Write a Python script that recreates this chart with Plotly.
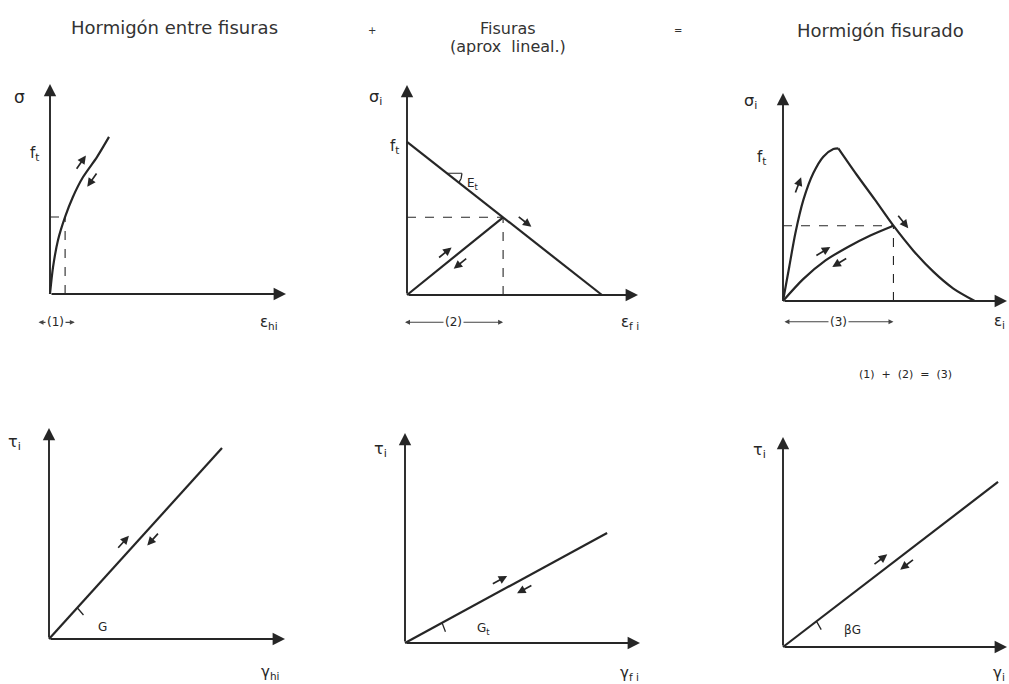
import math
import plotly.graph_objects as go

W, H = 1009, 684
INK = "#262626"
FONT = "DejaVu Sans"

# ---------------- data (each diagram uses normalised units, axes run 0..10) ----------------
# Hormigón entre fisuras: sigma - eps
a_eps = [0, 0.13, 0.34, 0.64, 0.97, 1.40, 1.99, 2.50]
a_sig = [0, 1.29, 2.57, 3.67, 4.62, 5.57, 6.52, 7.48]
a_ref = (0.64, 3.67)          # state marked by the dashed guides

# Fisuras: linear softening branch and secant unloading
b_soft_eps = [0, 8.44]
b_soft_sig = [7.29, 0]
b_unl_eps = [0, 4.16]
b_unl_sig = [0, 3.70]
b_ref = (4.16, 3.70)

# Hormigón fisurado: envelope (rising + softening) and unloading branch
c_up_eps = [0, 0.28, 0.55, 0.91, 1.35, 1.80, 2.25, 2.47]
c_up_sig = [0, 1.65, 3.25, 4.86, 6.14, 6.94, 7.31, 7.34]
c_down_eps = [2.47, 3.29, 4.11, 4.93, 5.82, 6.71, 7.59, 8.56]
c_down_sig = [7.34, 6.07, 4.86, 3.62, 2.42, 1.41, 0.61, 0]
c_unl_eps = [0, 0.9, 1.9, 2.9, 3.9, 4.93]
c_unl_sig = [0, 1.05, 1.95, 2.6, 3.15, 3.62]
c_ref = (4.93, 3.62)

# Shear: tau - gamma straight lines (G, G_t, beta*G)
d_gam, d_tau = [0, 7.33], [0, 9.05]
e_gam, e_tau = [0, 8.60], [0, 5.24]
f_gam, f_tau = [0, 9.60], [0, 7.86]

# ---------------- layout of the six diagrams ----------------
PANELS = {
    "A": dict(ox=50, oy=294, sx=23.6, sy=21.0),
    "B": dict(ox=407, oy=295, sx=23.1, sy=21.0),
    "C": dict(ox=783, oy=301, sx=22.4, sy=20.8),
    "D": dict(ox=49, oy=639, sx=23.6, sy=21.1),
    "E": dict(ox=405, oy=643, sx=23.5, sy=21.0),
    "F": dict(ox=783, oy=647, sx=22.4, sy=21.0),
}
X_LO, X_HI = -1.7, 10.0
Y_HI = 10.5

fig = go.Figure()
axes = {}
for i, k in enumerate(PANELS):
    g = PANELS[k]
    n = "" if i == 0 else str(i + 1)
    g["xref"], g["yref"] = "x" + n, "y" + n
    y_lo = -min(3.8, (H - g["oy"] - 1) / g["sy"])
    x0 = g["ox"] + X_LO * g["sx"]
    x1 = g["ox"] + X_HI * g["sx"]
    yb = g["oy"] - y_lo * g["sy"]
    yt = g["oy"] - Y_HI * g["sy"]
    axes["xaxis" + n] = dict(domain=[x0 / W, x1 / W], range=[X_LO, X_HI], visible=False,
                             anchor="y" + n, fixedrange=True)
    axes["yaxis" + n] = dict(domain=[1 - yb / H, 1 - yt / H], range=[y_lo, Y_HI], visible=False,
                             anchor="x" + n, fixedrange=True)


def curve(k, xs, ys, width=2.2, dash="solid", smooth=False):
    g = PANELS[k]
    line = dict(color=INK, width=width, dash=dash)
    if smooth:
        line.update(shape="spline", smoothing=0.8)
    fig.add_trace(go.Scatter(x=xs, y=ys, xaxis=g["xref"], yaxis=g["yref"], mode="lines",
                             line=line, hoverinfo="skip", showlegend=False))


def axis_arrows(k):
    g = PANELS[k]
    for hx, hy in [(X_HI, 0), (0, 10)]:
        fig.add_annotation(x=hx, y=hy, ax=0, ay=0, xref=g["xref"], yref=g["yref"],
                           axref=g["xref"], ayref=g["yref"], text="", showarrow=True,
                           arrowhead=2, arrowsize=1.3, arrowwidth=1.9, arrowcolor=INK)


def guides(k, ref):
    curve(k, [0, ref[0]], [ref[1], ref[1]], width=1.1, dash="dash")
    curve(k, [ref[0], ref[0]], [0, ref[1]], width=1.1, dash="dash")


def along_arrow(k, xs, ys, frac, side, forward, gap=9, length=18):
    """Small arrow drawn parallel to a curve, offset to one side of it."""
    g = PANELS[k]
    px = [x * g["sx"] for x in xs]
    py = [y * g["sy"] for y in ys]
    seg = [math.hypot(px[j + 1] - px[j], py[j + 1] - py[j]) for j in range(len(px) - 1)]
    target = frac * sum(seg)
    j, acc = 0, 0.0
    while j < len(seg) - 1 and acc + seg[j] < target:
        acc += seg[j]
        j += 1
    t = (target - acc) / seg[j]
    cx = px[j] + t * (px[j + 1] - px[j])
    cy = py[j] + t * (py[j + 1] - py[j])
    tx = (px[j + 1] - px[j]) / seg[j]
    ty = (py[j + 1] - py[j]) / seg[j]
    cx += side * gap * (-ty)
    cy += side * gap * tx
    hx, hy = cx + forward * tx * length / 2, cy + forward * ty * length / 2
    bx, by = cx - forward * tx * length / 2, cy - forward * ty * length / 2
    fig.add_annotation(x=hx / g["sx"], y=hy / g["sy"], ax=bx / g["sx"], ay=by / g["sy"],
                       xref=g["xref"], yref=g["yref"], axref=g["xref"], ayref=g["yref"],
                       text="", showarrow=True, arrowhead=2, arrowsize=1.0,
                       arrowwidth=1.7, arrowcolor=INK)


def arc(k, cx, cy, r, a0, a1, n=12):
    """Small angle arc (angles in degrees, measured in screen space)."""
    g = PANELS[k]
    xs, ys = [], []
    for i in range(n + 1):
        a = math.radians(a0 + (a1 - a0) * i / n)
        xs.append(cx + r * math.cos(a) / g["sx"])
        ys.append(cy + r * math.sin(a) / g["sy"])
    curve(k, xs, ys, width=1.3)


def slope_deg(k, xs, ys):
    g = PANELS[k]
    return math.degrees(math.atan2((ys[-1] - ys[0]) * g["sy"], (xs[-1] - xs[0]) * g["sx"]))


def label(k, text, x, y, size=15, xanchor="center"):
    g = PANELS[k]
    fig.add_annotation(x=x, y=y, xref=g["xref"], yref=g["yref"], text=text, showarrow=False,
                       xanchor=xanchor, yanchor="middle",
                       font=dict(family=FONT, size=size, color=INK))


def span(k, x0, x1, y, text):
    g = PANELS[k]
    fig.add_annotation(x=x1, y=y, ax=x0, ay=y, xref=g["xref"], yref=g["yref"],
                       axref=g["xref"], ayref=g["yref"], text="", showarrow=True,
                       arrowhead=2, arrowside="end+start", arrowsize=0.9, arrowwidth=1.1,
                       arrowcolor="#444")
    fig.add_annotation(x=(x0 + x1) / 2, y=y, xref=g["xref"], yref=g["yref"], text=text,
                       showarrow=False, bgcolor="white", xanchor="center", yanchor="middle",
                       font=dict(family=FONT, size=12, color=INK))


# ---- Hormigón entre fisuras ----
axis_arrows("A")
curve("A", a_eps, a_sig, smooth=True)
guides("A", a_ref)
along_arrow("A", a_eps, a_sig, 0.78, +1, +1, gap=10)
along_arrow("A", a_eps, a_sig, 0.74, -1, -1, gap=9)
label("A", "σ", -1.3, 9.4, size=17)
label("A", "f<sub>t</sub>", -0.65, 6.7)
label("A", "ε<sub>hi</sub>", 9.3, -1.35)
span("A", -0.55, 1.05, -1.35, "(1)")

# ---- Fisuras ----
axis_arrows("B")
curve("B", b_soft_eps, b_soft_sig)
curve("B", b_unl_eps, b_unl_sig)
guides("B", b_ref)
along_arrow("B", b_soft_eps, b_soft_sig, 0.57, +1, +1, gap=10)
along_arrow("B", b_unl_eps, b_unl_sig, 0.45, +1, +1, gap=9)
along_arrow("B", b_unl_eps, b_unl_sig, 0.50, -1, -1, gap=9)
pb = (1.73, b_soft_sig[0] * (1 - 1.73 / b_soft_eps[1]))
curve("B", [pb[0], pb[0] + 15 / PANELS["B"]["sx"]], [pb[1], pb[1]], width=1.1)
arc("B", pb[0], pb[1], 15, 0, slope_deg("B", b_soft_eps, b_soft_sig))
label("B", "σ<sub>i</sub>", -1.35, 9.4, size=16)
label("B", "f<sub>t</sub>", -0.55, 7.05)
label("B", "E<sub>t</sub>", 2.85, 5.3, size=12)
label("B", "ε<sub>f i</sub>", 9.65, -1.3)
span("B", -0.15, b_ref[0], -1.3, "(2)")

# ---- Hormigón fisurado ----
axis_arrows("C")
curve("C", c_up_eps, c_up_sig, smooth=True)
curve("C", c_down_eps, c_down_sig, smooth=True)
curve("C", c_unl_eps, c_unl_sig, smooth=True)
guides("C", c_ref)
along_arrow("C", c_up_eps, c_up_sig, 0.68, +1, +1, gap=10)
along_arrow("C", c_down_eps, c_down_sig, 0.47, +1, +1, gap=10)
along_arrow("C", c_unl_eps, c_unl_sig, 0.45, +1, +1, gap=9)
along_arrow("C", c_unl_eps, c_unl_sig, 0.52, -1, -1, gap=9)
label("C", "σ<sub>i</sub>", -1.45, 9.6, size=16)
label("C", "f<sub>t</sub>", -0.95, 6.9)
label("C", "ε<sub>i</sub>", 10.0, -1.0, xanchor="right")
span("C", 0, c_ref[0], -1.0, "(3)")
label("C", "(1)  +  (2)  =  (3)", 5.45, -3.55, size=11)

# ---- shear diagrams ----
for k, gx, gy, frac_hi, frac_lo, sym, sym_pos in [
    ("D", d_gam, d_tau, 0.47, 0.56, "G", (2.25, 0.55)),
    ("E", e_gam, e_tau, 0.49, 0.57, "G<sub>t</sub>", (3.35, 0.65)),
    ("F", f_gam, f_tau, 0.48, 0.55, "βG", (3.1, 0.8)),
]:
    axis_arrows(k)
    curve(k, gx, gy)
    along_arrow(k, gx, gy, frac_hi, +1, +1, gap=10)
    along_arrow(k, gx, gy, frac_lo, -1, -1, gap=10)
    ang = slope_deg(k, gx, gy)
    arc(k, 0, 0, 42, ang - 13, ang)
    label(k, sym, sym_pos[0], sym_pos[1], size=12)

label("D", "τ<sub>i</sub>", -1.45, 9.3, size=16)
label("D", "γ<sub>hi</sub>", 9.35, -1.6)
label("E", "τ<sub>i</sub>", -1.05, 9.2, size=16)
label("E", "γ<sub>f i</sub>", 9.55, -1.45)
label("F", "τ<sub>i</sub>", -1.05, 9.35, size=16)
label("F", "γ<sub>i</sub>", 10.0, -1.25, xanchor="right")

# ---- column headings ----
heads = [
    ("Hormigón entre fisuras", 174, 27, 18),
    ("Fisuras", 508, 28, 16),
    ("(aprox  lineal.)", 508, 46, 16),
    ("Hormigón fisurado", 880, 30, 18),
    ("+", 372, 30, 10),
    ("=", 678, 31, 10),
]
for text, x, y, size in heads:
    fig.add_annotation(x=x / W, y=1 - y / H, xref="paper", yref="paper", text=text,
                       showarrow=False, xanchor="center", yanchor="middle",
                       font=dict(family=FONT, size=size, color="#333"))

fig.update_layout(width=W, height=H, margin=dict(l=0, r=0, t=0, b=0),
                  paper_bgcolor="white", plot_bgcolor="white", showlegend=False, **axes)

fig.write_html("out.html")
